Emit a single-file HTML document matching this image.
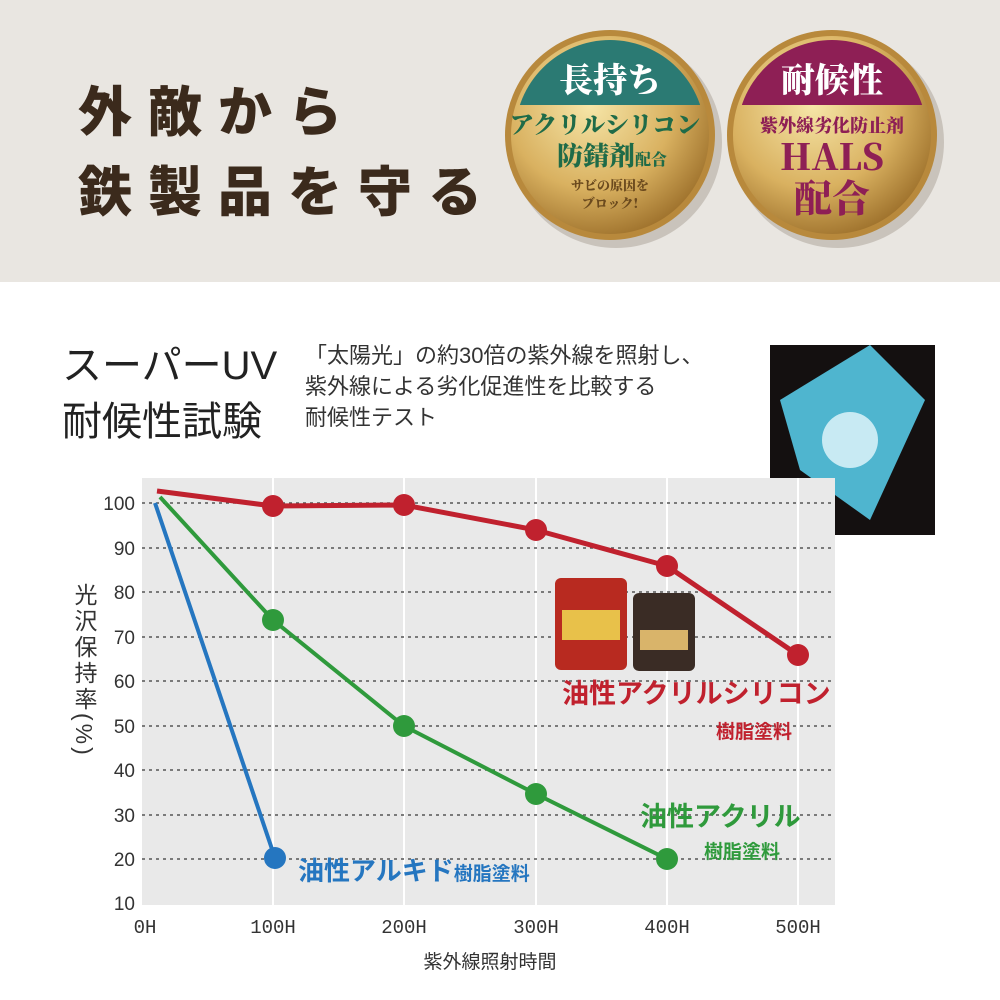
<!DOCTYPE html>
<html><head><meta charset="utf-8"><style>
body{margin:0;width:1000px;height:1000px;background:#fff;position:relative;overflow:hidden;font-family:"Liberation Sans","Noto Sans CJK JP",sans-serif}
.top{position:absolute;left:0;top:0;width:1000px;height:282px;background:#e9e6e1}
.h1{position:absolute;left:78px;font-size:54px;font-weight:900;color:#3b2a1c;letter-spacing:16px;font-family:"Noto Sans CJK JP",sans-serif}
.t{position:absolute;font-family:"Liberation Sans","Noto Sans CJK JP",sans-serif;color:#222}
</style></head><body>
<div class="top"></div>
<div class="h1" style="top:68px">外敵から</div>
<div class="h1" style="top:148px">鉄製品を守る</div>
<svg style="position:absolute;left:0;top:0" width="1000" height="282">
<defs>
<radialGradient id="g" cx="40%" cy="35%" r="70%"><stop offset="0" stop-color="#f6e6a8"/><stop offset="0.6" stop-color="#d9b160"/><stop offset="1" stop-color="#9c6f2a"/></radialGradient>
<clipPath id="c1"><circle cx="610" cy="135" r="95"/></clipPath>
<clipPath id="c2"><circle cx="832" cy="135" r="95"/></clipPath>
</defs>
<circle cx="616" cy="142" r="106" fill="#c9c3bb"/><circle cx="838" cy="142" r="106" fill="#c9c3bb"/>
<circle cx="610" cy="135" r="105" fill="#b8893c"/><circle cx="610" cy="135" r="99" fill="url(#g)"/>
<rect x="500" y="30" width="220" height="75" fill="#2b7a73" clip-path="url(#c1)"/>
<circle cx="832" cy="135" r="105" fill="#b8893c"/><circle cx="832" cy="135" r="99" fill="url(#g)"/>
<rect x="720" y="30" width="220" height="75" fill="#8e1f55" clip-path="url(#c2)"/>
<g font-family="Noto Serif CJK SC,serif" font-weight="900" text-anchor="middle">
<text x="610" y="92" font-size="34" fill="#fff">長持ち</text>
<text x="605" y="133" font-size="24" fill="#1f6b48">アクリルシリコン</text>
<text x="612" y="165" font-size="26" fill="#1f6b48">防錆剤<tspan font-size="16">配合</tspan></text>
<text x="610" y="190" font-size="13" fill="#6b4a1e">サビの原因を</text>
<text x="610" y="208" font-size="13" fill="#6b4a1e">ブロック!</text>
<text x="832" y="92" font-size="34" fill="#fff">耐候性</text>
<text x="832" y="132" font-size="18" fill="#8e1f55">紫外線劣化防止剤</text>
<text x="832" y="170" font-size="36" fill="#8e1f55">HALS</text>
<text x="832" y="212" font-size="38" fill="#8e1f55">配合</text>
</g>
</svg>
<div class="t" style="left:62px;top:338px;font-size:40px;line-height:56px">スーパーUV<br>耐候性試験</div>
<div class="t" style="left:305px;top:340px;font-size:22px;line-height:31px;color:#333">「太陽光」の約30倍の紫外線を照射し、<br>紫外線による劣化促進性を比較する<br>耐候性テスト</div>
<svg style="position:absolute;left:0;top:0" width="1000" height="1000">
<rect x="770" y="345" width="165" height="190" fill="#141010"/>
<polygon points="780,400 870,345 925,400 870,520 800,470" fill="#4fb5cf"/>
<circle cx="850" cy="440" r="28" fill="#e6f7fb" opacity="0.8"/>
<rect x="142" y="478" width="693" height="427" fill="#e9e9e9"/>
<g stroke="#fff" stroke-width="2">
<line x1="273" y1="478" x2="273" y2="905"/><line x1="404" y1="478" x2="404" y2="905"/><line x1="536" y1="478" x2="536" y2="905"/><line x1="667" y1="478" x2="667" y2="905"/><line x1="798" y1="478" x2="798" y2="905"/>
</g>
<g stroke="#555" stroke-width="1.6" stroke-dasharray="3,4">
<line x1="142" y1="503" x2="835" y2="503"/><line x1="142" y1="548" x2="835" y2="548"/><line x1="142" y1="592" x2="835" y2="592"/><line x1="142" y1="637" x2="835" y2="637"/><line x1="142" y1="681" x2="835" y2="681"/><line x1="142" y1="726" x2="835" y2="726"/><line x1="142" y1="770" x2="835" y2="770"/><line x1="142" y1="815" x2="835" y2="815"/><line x1="142" y1="859" x2="835" y2="859"/>
</g>
<g font-size="19" fill="#333" text-anchor="end" font-family="Liberation Sans,sans-serif">
<text x="135" y="510">100</text><text x="135" y="555">90</text><text x="135" y="599">80</text><text x="135" y="644">70</text><text x="135" y="688">60</text><text x="135" y="733">50</text><text x="135" y="777">40</text><text x="135" y="822">30</text><text x="135" y="866">20</text><text x="135" y="910">10</text>
</g>
<g font-size="19" fill="#333" text-anchor="middle" font-family="Liberation Mono,monospace">
<text x="145" y="933">0H</text><text x="273" y="933">100H</text><text x="404" y="933">200H</text><text x="536" y="933">300H</text><text x="667" y="933">400H</text><text x="798" y="933">500H</text>
</g>
<text x="490" y="968" font-size="19" fill="#333" text-anchor="middle">紫外線照射時間</text>
<text font-size="23" fill="#333" writing-mode="tb" x="84" y="583" letter-spacing="3">光沢保持率(%)</text>
<polyline points="157,491 273,506 404,505 536,530 667,566 798,655" fill="none" stroke="#c0212e" stroke-width="5"/>
<polyline points="160,497 273,620 404,726 536,794 667,859" fill="none" stroke="#2f9a3c" stroke-width="4"/>
<polyline points="155,503 275,858" fill="none" stroke="#2576c0" stroke-width="4"/>
<g fill="#c0212e"><circle cx="273" cy="506" r="11"/><circle cx="404" cy="505" r="11"/><circle cx="536" cy="530" r="11"/><circle cx="667" cy="566" r="11"/><circle cx="798" cy="655" r="11"/></g>
<g fill="#2f9a3c"><circle cx="273" cy="620" r="11"/><circle cx="404" cy="726" r="11"/><circle cx="536" cy="794" r="11"/><circle cx="667" cy="859" r="11"/></g>
<circle cx="275" cy="858" r="11" fill="#2576c0"/>
<rect x="555" y="578" width="72" height="92" rx="6" fill="#b82a20"/><rect x="562" y="610" width="58" height="30" fill="#e8c14a"/>
<rect x="633" y="593" width="62" height="78" rx="6" fill="#3a2c25"/><rect x="640" y="630" width="48" height="20" fill="#d9b46a"/>
<g font-family="Noto Sans CJK JP,sans-serif" font-weight="700">
<text x="562" y="703" font-size="27" fill="#c0212e">油性アクリルシリコン</text>
<text x="716" y="738" font-size="19" fill="#c0212e">樹脂塗料</text>
<text x="640" y="826" font-size="27" fill="#2f9a3c">油性アクリル</text>
<text x="704" y="858" font-size="19" fill="#2f9a3c">樹脂塗料</text>
<text x="298" y="880" font-size="26" fill="#2576c0">油性アルキド<tspan font-size="19">樹脂塗料</tspan></text>
</g>
</svg>
</body></html>
